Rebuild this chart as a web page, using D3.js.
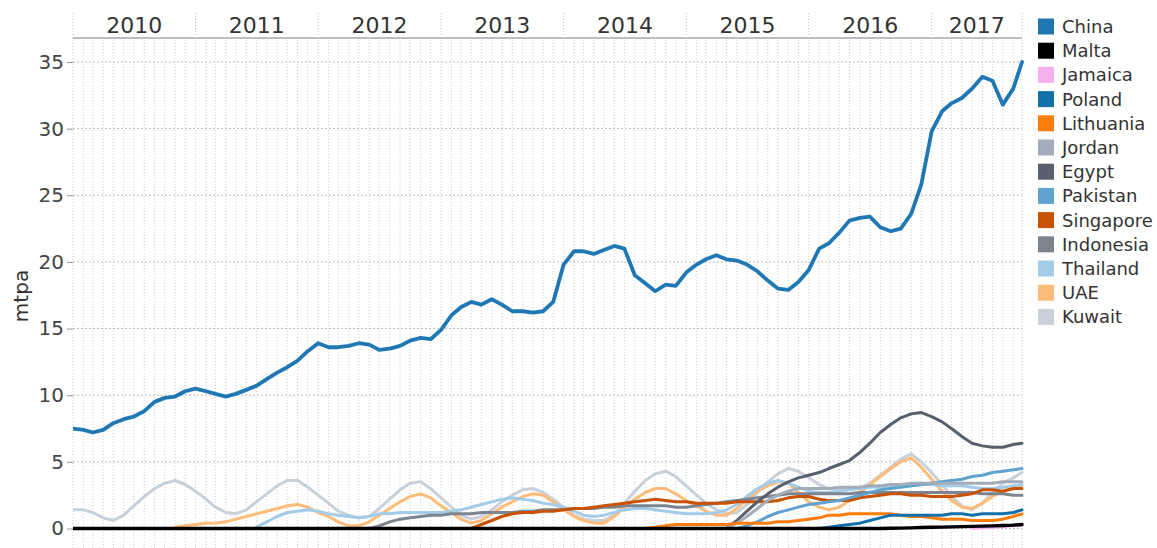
<!DOCTYPE html>
<html><head><meta charset="utf-8">
<script src="https://cdn.jsdelivr.net/npm/d3@7"></script>
<style>body{margin:0;background:#fff;}svg{display:block;font-family:"DejaVu Sans",sans-serif;}</style>
</head><body><svg id="c" width="1157" height="548"></svg>
<script>
// ---- data (monthly readings, last point = 2017-09-27) ----
const years = ["2010","2011","2012","2013","2014","2015","2016","2017"];
const yTicks = [0,5,10,15,20,25,30,35];
const countries = ["China","Malta","Jamaica","Poland","Lithuania","Jordan","Egypt","Pakistan","Singapore","Indonesia","Thailand","UAE","Kuwait"];
const colors = ["#1f77b4","#000000","#f7b0ee","#1170aa","#fc7d0b","#a3acb9","#57606c","#5fa2ce","#c85200","#7b848f","#a3cce9","#ffbc79","#c8d0d9"];
const startMonth = {China:0,Malta:0,Jamaica:88,Poland:73,Lithuania:56,Jordan:64,Egypt:64,Pakistan:65,Singapore:39,Indonesia:29,Thailand:18,UAE:10,Kuwait:0};

const china = [7.5,7.4,7.2,7.4,7.9,8.2,8.4,8.8,9.5,9.8,9.9,10.3,
 10.5,10.3,10.1,9.9,10.1,10.4,10.7,11.2,11.7,12.1,12.6,13.3,
 13.9,13.6,13.6,13.7,13.9,13.8,13.4,13.5,13.7,14.1,14.3,14.2,
 14.9,16.0,16.6,17.0,16.8,17.2,16.8,16.3,16.3,16.2,16.3,17.0,
 19.8,20.8,20.8,20.6,20.9,21.2,21.0,19.0,18.4,17.8,18.3,18.2,
 19.2,19.8,20.2,20.5,20.2,20.1,19.8,19.3,18.6,18.0,17.9,18.5,
 19.4,21.0,21.4,22.2,23.1,23.3,23.4,22.6,22.3,22.5,23.6,25.8,
 29.8,31.3,31.9,32.3,33.0,33.9,33.6,31.8,33.0,35.0];
const malta = [0,0,0,0,0,0,0,0,0,0,0,0, 0,0,0,0,0,0,0,0,0,0,0,0,
 0,0,0,0,0,0,0,0,0,0,0,0, 0,0,0,0,0,0,0,0,0,0,0,0,
 0,0,0,0,0,0,0,0,0,0,0,0, 0,0,0,0,0,0,0,0,0,0,0,0,
 0,0,0,0,0,0,0,0,0.02,0.03,0.05,0.07,
 0.09,0.1,0.12,0.14,0.16,0.18,0.2,0.22,0.25,0.3];
const jamaica = [0.0,0.05,0.1,0.15,0.2,0.25];
const poland = [0.0,0.1,0.2,0.3,0.4,0.6,0.8,1.0,1.0,1.0,1.0,
 1.0,1.0,1.1,1.1,1.0,1.1,1.1,1.1,1.2,1.4];
const lithuania = [0.0,0.1,0.2,0.3,
 0.3,0.3,0.3,0.3,0.3,0.4,0.4,0.4,0.4,0.5,0.5,0.6,
 0.7,0.8,1.0,1.0,1.1,1.1,1.1,1.1,1.1,1.0,0.9,0.9,
 0.8,0.7,0.7,0.7,0.6,0.6,0.6,0.7,0.9,1.1];
const jordan = [0.0,0.4,0.9,1.5,2.1,2.5,2.8,3.0,
 3.0,3.0,3.0,3.1,3.1,3.1,3.2,3.2,3.3,3.3,3.4,3.4,
 3.4,3.4,3.4,3.4,3.4,3.4,3.4,3.5,3.5,3.5];
const egypt = [0.0,0.6,1.3,2.0,2.6,3.1,3.5,3.8,
 4.0,4.2,4.5,4.8,5.1,5.7,6.4,7.2,7.8,8.3,8.6,8.7,
 8.4,8.0,7.5,6.9,6.4,6.2,6.1,6.1,6.3,6.4];
const pakistan = [0.0,0.2,0.5,0.9,1.2,1.4,1.6,
 1.8,1.9,2.0,2.1,2.3,2.5,2.7,2.9,3.0,3.1,3.2,3.3,
 3.4,3.5,3.6,3.7,3.9,4.0,4.2,4.3,4.4,4.5];
const singapore = [0.0,0.3,0.6,0.9,1.1,1.2,1.2,1.3,1.3,
 1.4,1.5,1.5,1.6,1.7,1.8,1.9,2.0,2.1,2.2,2.1,2.0,
 2.0,1.9,1.9,1.9,1.9,2.0,2.0,2.0,2.0,2.1,2.3,2.4,
 2.4,2.2,2.1,2.1,2.1,2.3,2.4,2.5,2.6,2.6,2.5,2.5,
 2.4,2.4,2.4,2.5,2.6,2.9,2.9,2.8,3.0,3.0];
const indonesia = [0.0,0.2,0.5,0.7,0.8,0.9,1.0,
 1.0,1.1,1.1,1.1,1.2,1.2,1.2,1.2,1.3,1.3,1.4,1.4,
 1.4,1.5,1.5,1.5,1.6,1.6,1.7,1.7,1.7,1.7,1.7,1.6,
 1.6,1.7,1.8,1.9,2.0,2.1,2.2,2.3,2.4,2.5,2.6,2.6,
 2.6,2.6,2.6,2.6,2.6,2.7,2.7,2.7,2.7,2.7,2.7,2.7,
 2.7,2.7,2.7,2.7,2.7,2.6,2.6,2.6,2.5,2.5];
const thailand = [0.1,0.5,0.9,1.2,1.3,1.4,
 1.3,1.1,1.0,0.9,0.8,0.9,1.1,1.1,1.2,1.2,1.2,1.2,
 1.2,1.3,1.4,1.6,1.8,2.0,2.2,2.3,2.2,2.1,1.9,1.8,
 1.6,1.3,1.0,0.9,1.0,1.2,1.4,1.5,1.5,1.4,1.3,1.2,
 1.1,1.1,1.1,1.2,1.4,1.8,2.4,3.0,3.4,3.6,3.4,3.1,
 2.8,2.7,2.7,2.8,2.9,3.0,3.1,3.1,3.2,3.2,3.2,3.3,
 3.3,3.2,3.2,3.2,3.1,3.0,3.0,3.1,3.2,3.3];
const uae = [0.1,0.2,
 0.3,0.4,0.4,0.5,0.7,0.9,1.1,1.3,1.5,1.7,1.8,1.6,
 1.2,0.9,0.5,0.2,0.2,0.5,1.0,1.5,2.0,2.4,2.6,2.3,
 1.7,1.2,0.7,0.4,0.6,1.1,1.6,2.0,2.4,2.6,2.5,2.0,
 1.4,0.9,0.6,0.4,0.4,0.9,1.6,2.2,2.7,3.0,3.0,2.6,
 2.1,1.7,1.3,1.0,1.0,1.5,2.2,2.8,3.2,3.5,3.4,2.7,
 2.0,1.6,1.4,1.6,2.1,2.7,3.3,3.9,4.5,5.0,5.3,4.6,
 3.7,2.8,2.1,1.6,1.5,1.9,2.4,2.8,3.0,3.2];
const kuwait = [1.4,1.4,1.2,0.8,0.6,1.0,1.7,2.4,3.0,3.4,3.6,3.3,
 2.8,2.2,1.6,1.2,1.1,1.4,2.0,2.6,3.2,3.6,3.6,3.1,
 2.5,1.9,1.3,1.0,0.8,0.9,1.5,2.2,2.9,3.4,3.5,3.0,
 2.3,1.6,1.0,0.7,0.9,1.4,2.0,2.5,2.9,3.0,2.7,2.2,
 1.6,1.0,0.7,0.6,0.6,1.0,1.9,2.8,3.6,4.1,4.3,3.9,
 3.2,2.5,1.9,1.4,1.1,1.2,1.8,2.7,3.5,4.1,4.5,4.3,
 3.8,3.3,3.0,2.9,3.0,3.0,3.4,4.0,4.6,5.2,5.6,5.0,
 4.2,3.3,2.4,1.7,1.4,1.9,2.7,3.4,3.8,4.2];
const seriesValues = {China:china,Malta:malta,Jamaica:jamaica,Poland:poland,Lithuania:lithuania,Jordan:jordan,Egypt:egypt,Pakistan:pakistan,Singapore:singapore,Indonesia:indonesia,Thailand:thailand,UAE:uae,Kuwait:kuwait};

// ---- dates ----
const months = d3.timeMonth.range(new Date(2010,0,1), new Date(2017,9,1)); // 93 months
const dates = months.concat([new Date(2017,8,27)]);
const endDate = new Date(2017,8,27);

const svg = d3.select("#c");
const L = 73, R = 1022, T = 38, B = 548;
const x = d3.scaleTime().domain([new Date(2010,0,1), endDate]).range([L, R]);
const y = d3.scaleLinear().domain([0,35]).range([528.5, 62]);

svg.append("rect").attr("width",1157).attr("height",548).attr("fill","#fff");

// grid
const grid = svg.append("g");
grid.selectAll("line.v").data(months).join("line")
  .attr("x1",d=>x(d)).attr("x2",d=>x(d)).attr("y1",T+2).attr("y2",B)
  .attr("stroke","#cfcfcf").attr("stroke-width",1).attr("stroke-dasharray","1,2");
grid.append("line").attr("x1",R).attr("x2",R).attr("y1",T+2).attr("y2",B)
  .attr("stroke","#cfcfcf").attr("stroke-dasharray","1,2");
grid.selectAll("line.h").data(yTicks).join("line")
  .attr("x1",L).attr("x2",R).attr("y1",d=>y(d)).attr("y2",d=>y(d))
  .attr("stroke","#bdbdbd").attr("stroke-width",1).attr("stroke-dasharray","2,2");

// header (years)
const yearStarts = years.map(s => new Date(+s,0,1));
svg.selectAll("line.ysep").data(yearStarts).join("line")
  .attr("x1",d=>x(d)).attr("x2",d=>x(d)).attr("y1",13).attr("y2",T)
  .attr("stroke","#bbb").attr("stroke-dasharray","1,2");
svg.append("line").attr("x1",R).attr("x2",R).attr("y1",13).attr("y2",T)
  .attr("stroke","#bbb").attr("stroke-dasharray","1,2");
svg.selectAll("text.year").data(years).join("text")
  .attr("x",(d,i)=>{const a=x(yearStarts[i]);const b=i<years.length-1?x(yearStarts[i+1]):R;return (a+b)/2;})
  .attr("y",33).attr("text-anchor","middle").attr("font-size",22).attr("fill","#333").text(d=>d);
svg.append("line").attr("x1",L).attr("x2",R).attr("y1",T).attr("y2",T)
  .attr("stroke","#bdbdbd").attr("stroke-width",2);

// y axis
const yAxis = d3.axisLeft(y).tickValues(yTicks).tickSize(6).tickPadding(3);
const ga = svg.append("g").attr("transform",`translate(${L},0)`).call(yAxis);
ga.select(".domain").remove();
ga.selectAll(".tick line").attr("stroke","#999");
ga.selectAll(".tick text").attr("font-size",20).attr("fill","#444").attr("font-family","DejaVu Sans");
svg.append("text").attr("transform","translate(28,296) rotate(-90)")
  .attr("text-anchor","middle").attr("font-size",20).attr("fill","#333").text("mtpa");

// lines
svg.append("clipPath").attr("id","clip").append("rect").attr("x",L).attr("y",T+1).attr("width",R-L+2).attr("height",B-T);
const line = d3.line().defined(d=>d[1]!=null).x(d=>x(d[0])).y(d=>y(d[1]));
const gl = svg.append("g").attr("clip-path","url(#clip)");
countries.slice().reverse().forEach(c=>{
  const vals = seriesValues[c], s = startMonth[c];
  const pts = vals.map((v,i)=>[dates[s+i], v]);
  const ci = countries.indexOf(c);
  gl.append("path").datum(pts).attr("d",line).attr("fill","none")
    .attr("stroke",colors[ci]).attr("stroke-width", c==="China"?3.8:(c==="Malta"?3.4:3))
    .attr("stroke-linejoin","round").attr("stroke-linecap","round");
});

// legend
const lg = svg.append("g");
countries.forEach((c,i)=>{
  lg.append("rect").attr("x",1038).attr("y",18.5+i*24.2).attr("width",16).attr("height",16).attr("fill",colors[i]);
  lg.append("text").attr("x",1062).attr("y",33+i*24.2).attr("font-size",18).attr("fill","#333").text(c);
});
</script></body></html>
